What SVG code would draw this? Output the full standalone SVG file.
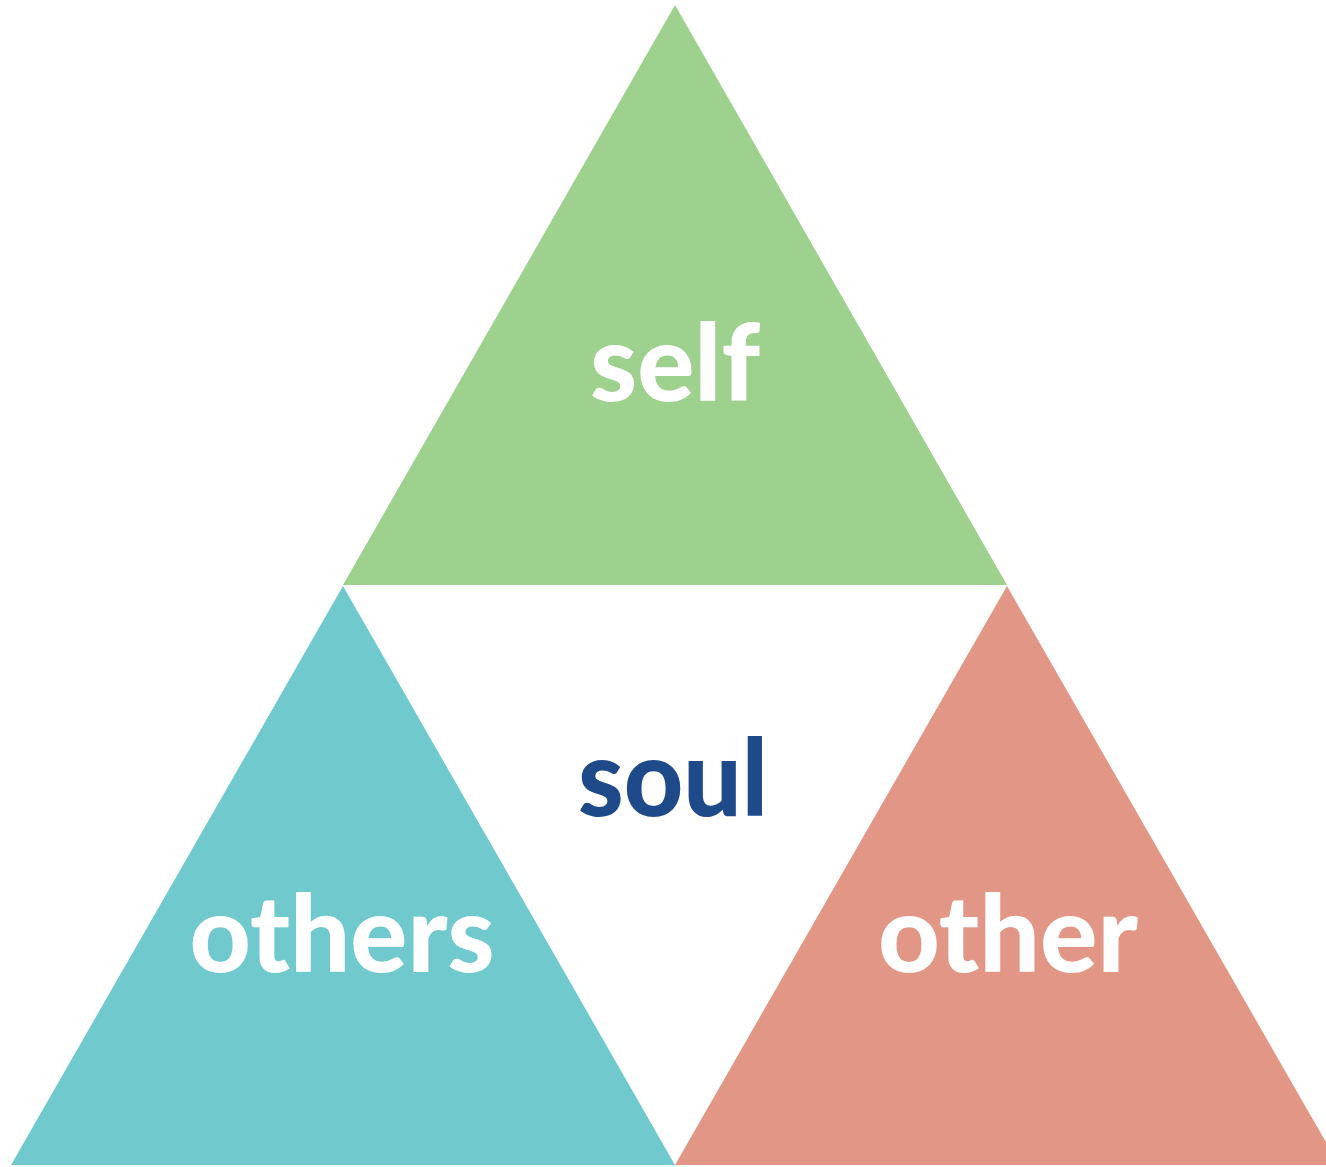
<svg xmlns="http://www.w3.org/2000/svg" width="1326" height="1167" viewBox="0 0 1326 1167">
  <style>
    .lbl { font-family: Lato, "Noto Sans", "Liberation Sans", sans-serif; font-weight: 900; font-size: 106px; text-anchor: middle; }
    .w { fill: #ffffff; }
    .n { fill: #1f4a8a; }
  </style>
  <rect width="1326" height="1167" fill="#ffffff"/>
  <g id="self">
    <polygon points="675,5 1007,585 343,585" fill="#9ed08e"/>
    <text class="lbl w" x="675" y="401" textLength="170" lengthAdjust="spacingAndGlyphs">self</text>
  </g>
  <g id="others">
    <polygon points="343,586 675,1165 11,1165" fill="#70cacd"/>
    <text class="lbl w" x="342" y="972" textLength="305" lengthAdjust="spacingAndGlyphs">others</text>
  </g>
  <g id="other">
    <polygon points="1007,586 1339,1165 675,1165" fill="#e29686"/>
    <text class="lbl w" x="1008" y="972" textLength="260" lengthAdjust="spacingAndGlyphs">other</text>
  </g>
  <g id="soul">
    <text class="lbl n" x="673" y="816" textLength="190" lengthAdjust="spacingAndGlyphs">soul</text>
  </g>
  <g id="connectors"></g>
</svg>
